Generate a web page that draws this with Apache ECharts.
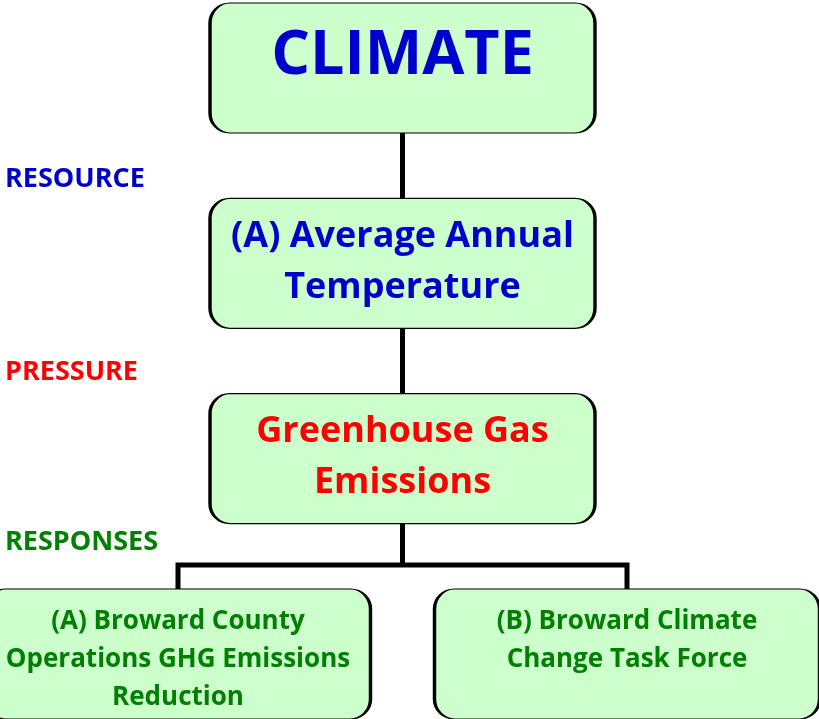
<!DOCTYPE html>
<html>
<head>
<meta charset="utf-8">
<script src="https://cdn.jsdelivr.net/npm/echarts@6/dist/echarts.min.js"></script>
<style>
html,body{margin:0;padding:0;background:#fff;}
#main{width:819px;height:719px;}
</style>
</head>
<body>
<div id="main"></div>
<script>
// ---- data ----
const rootName = 'CLIMATE';
const resourceName = '(A) Average Annual\nTemperature';
const pressureName = 'Greenhouse Gas\nEmissions';
const responseNames = [
  '(A) Broward County\nOperations GHG Emissions\nReduction',
  '(B) Broward Climate\nChange Task Force'
];
const levelLabels = ['RESOURCE', 'PRESSURE', 'RESPONSES'];

// ---- styles ----
const FONT = '"Open Sans", "DejaVu Sans", sans-serif';
const BLUE = '#0000CC', RED = '#FF0000', GREEN = '#008000';
const BOX = 'path://M20,0 H365 A20,20 0 0 1 385,20 V110 A20,20 0 0 1 365,130 H20 A20,20 0 0 1 0,110 V20 A20,20 0 0 1 20,0 Z';

function lbl(color, size, lh, pad) {
  return {
    show: true, position: ['50%', pad], align: 'center', verticalAlign: 'top',
    color: color, fontFamily: FONT, fontWeight: 'bold', fontSize: size, lineHeight: lh
  };
}

function buildTree(withLabels) {
  const mk = (name, label, children) => {
    const n = { name: name };
    if (withLabels) n.label = label;
    if (children) n.children = children;
    return n;
  };
  return [
    mk(rootName, lbl(BLUE, 61, 70, 19), [
      mk(resourceName, lbl(BLUE, 36, 51, 13), [
        mk(pressureName, lbl(RED, 36, 51, 13),
          responseNames.map(n => mk(n, lbl(GREEN, 26, 38, 14)))
        )
      ])
    ])
  ];
}

const layoutBox = { left: -46.5, top: 68, width: 898, height: 586 };

const chart = echarts.init(document.getElementById('main'), null, { renderer: 'canvas' });
chart.setOption({
  animation: false,
  backgroundColor: '#ffffff',
  series: [
    Object.assign({
      type: 'tree',
      z: 2,
      orient: 'TB',
      layout: 'orthogonal',
      edgeShape: 'polyline',
      edgeForkPosition: '54.5%',
      expandAndCollapse: false,
      roam: false,
      data: buildTree(false),
      symbol: 'circle',
      symbolSize: 1,
      itemStyle: { opacity: 0 },
      label: { show: false },
      leaves: { label: { show: false } },
      lineStyle: { color: '#000000', width: 5, curveness: 0 },
      emphasis: { disabled: true },
      silent: true
    }, layoutBox),
    Object.assign({
      type: 'tree',
      z: 3,
      orient: 'TB',
      layout: 'orthogonal',
      edgeShape: 'polyline',
      edgeForkPosition: '54.5%',
      expandAndCollapse: false,
      roam: false,
      data: buildTree(true),
      symbol: BOX,
      symbolSize: [385, 130],
      symbolKeepAspect: false,
      itemStyle: { color: '#CCFFCC', borderColor: '#000000', borderWidth: 2 },
      lineStyle: { width: 0, opacity: 0 },
      emphasis: { disabled: true },
      silent: true
    }, layoutBox)
  ],
  graphic: [
    { type: 'text', left: 5, top: 166, style: { text: levelLabels[0], fill: BLUE, font: 'bold 27px ' + FONT } },
    { type: 'text', left: 5, top: 359, style: { text: levelLabels[1], fill: RED, font: 'bold 27px ' + FONT } },
    { type: 'text', left: 5, top: 529, style: { text: levelLabels[2], fill: GREEN, font: 'bold 27px ' + FONT } }
  ]
});
</script>
</body>
</html>
